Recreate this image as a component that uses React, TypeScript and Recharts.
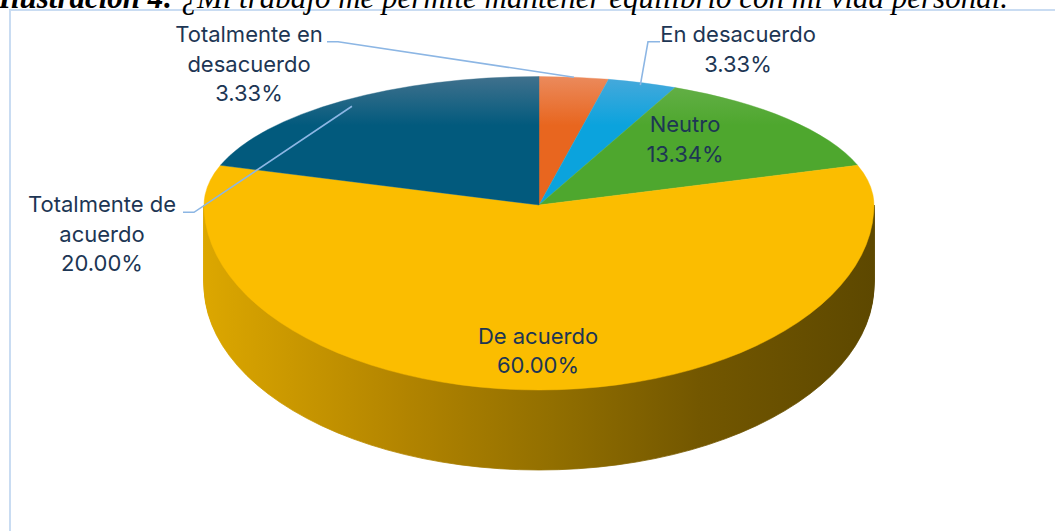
import React from 'react';
import { PieChart, Pie, Cell } from 'recharts';

// ---------- data ----------
const CATEGORIES = [
  'Totalmente en desacuerdo',
  'En desacuerdo',
  'Neutro',
  'De acuerdo',
  'Totalmente de acuerdo',
];
const VALUES = [3.33, 3.33, 13.34, 60.0, 20.0];
const LABEL_LINES = [
  ['Totalmente en', 'desacuerdo'],
  ['En desacuerdo'],
  ['Neutro'],
  ['De acuerdo'],
  ['Totalmente de', 'acuerdo'],
];
const TITLE_BOLD = 'Ilustración 4: ';
const TITLE_REST = '¿Mi trabajo me permite mantener equilibrio con mi vida personal.';

// ---------- layout / style ----------
const W = 1055;
const H = 531;
const CX = 539;
const CY = 205;
const R = 335;
const RY_BACK = 128.5;
const RY_FRONT = 185;
const DEPTH = 80;
const LAYERS = 60;
const SB = RY_BACK / R;
const SF = RY_FRONT / R;
const BH = 900;
const FH = Math.ceil(H / SF) + 10;
const LINE_H = 29.8;
const FONT = 'Inter, "Noto Sans", sans-serif';
const TEXT_COLOR = '#1d3654';
const LEADER_COLOR = '#8cb6e4';

const TOP_COLORS = [
  { light: '#eb8a5c', base: '#e8661f' },
  { light: '#48a9db', base: '#0ba3dd' },
  { light: '#68b14c', base: '#4ea72e' },
  { light: '#fbbd00', base: '#fbbd00' },
  { light: '#40718d', base: '#025a7d' },
];

const LABEL_LAYOUT: any[] = [
  { x: 249, y: 41.7, leader: { from: [327, 41.7], elbow: [338, 41.7], f: 1.0 } },
  { x: 738, y: 41.7, leader: { from: [660, 41.7], elbow: [648, 41.7], f: 0.98 } },
  { x: 685, y: 131.7 },
  { x: 538, y: 343.5 },
  { x: 102, y: 211.7, leader: { from: [183, 212.3], elbow: [194, 212.3], f: 0.95 } },
];

const data = CATEGORIES.map((name, i) => ({ name, value: VALUES[i] }));

const renderLabel = (p: any) => {
  const i = p.index;
  const L = LABEL_LAYOUT[i];
  const lines = [...LABEL_LINES[i], `${VALUES[i].toFixed(2)}%`];
  const cx = typeof p.cx === 'number' ? p.cx : CX;
  const cy = typeof p.cy === 'number' ? p.cy : CY;
  let leader = null;
  if (L.leader) {
    const rad = (p.midAngle * Math.PI) / 180;
    const s = Math.sin(rad);
    const c = Math.cos(rad);
    const ry = s >= 0 ? RY_BACK : RY_FRONT;
    const ex = cx + L.leader.f * R * c;
    const ey = cy - L.leader.f * ry * s;
    leader = (
      <polyline
        points={`${L.leader.from[0]},${L.leader.from[1]} ${L.leader.elbow[0]},${L.leader.elbow[1]} ${ex},${ey}`}
        fill="none"
        stroke={LEADER_COLOR}
        strokeWidth={1.6}
      />
    );
  }
  return (
    <g key={`lbl-${i}`}>
      {leader}
      <text x={L.x} y={L.y} textAnchor="middle" fill={TEXT_COLOR} fontFamily={FONT} fontSize={22}>
        {lines.map((t, j) => (
          <tspan key={j} x={L.x} y={L.y + j * LINE_H}>
            {t}
          </tspan>
        ))}
      </text>
    </g>
  );
};

const layers = Array.from({ length: LAYERS }, (_, k) => LAYERS - k);

export default function App() {
  const zeroMargin = { top: 0, right: 0, bottom: 0, left: 0 };
  return (
    <div
      style={{
        position: 'absolute',
        left: 0,
        top: 0,
        width: W,
        height: H,
        overflow: 'hidden',
        background: '#ffffff',
      }}
    >
      <svg width={0} height={0} style={{ position: 'absolute' }}>
        <defs>
          {TOP_COLORS.map((c, i) => (
            <linearGradient
              key={i}
              id={`top${i}`}
              gradientUnits="userSpaceOnUse"
              x1={0}
              y1={CY / SB - R}
              x2={0}
              y2={CY / SB}
            >
              <stop offset="0" stopColor={c.light} />
              <stop offset="0.38" stopColor={c.base} />
              <stop offset="1" stopColor={c.base} />
            </linearGradient>
          ))}
          <linearGradient id="side" gradientUnits="userSpaceOnUse" x1={CX - R} y1={0} x2={CX + R} y2={0}>
            <stop offset="0" stopColor="#dca700" />
            <stop offset="0.3" stopColor="#b28400" />
            <stop offset="0.52" stopColor="#926f00" />
            <stop offset="0.74" stopColor="#735700" />
            <stop offset="1" stopColor="#5d4800" />
          </linearGradient>
        </defs>
      </svg>

      {/* frame */}
      <div
        style={{
          position: 'absolute',
          left: 9,
          top: 9,
          width: 3000,
          height: 3000,
          borderLeft: '2px solid #c9dcf2',
          borderTop: '2px solid #c9dcf2',
        }}
      />

      {/* back half of top face */}
      <div style={{ position: 'absolute', left: 0, top: 0, width: W, height: CY, overflow: 'hidden' }}>
        <div
          style={{
            position: 'absolute',
            left: 0,
            top: 0,
            width: W,
            height: BH,
            transform: `scaleY(${SB})`,
            transformOrigin: '0 0',
          }}
        >
          <PieChart width={W} height={BH} margin={zeroMargin}>
            <Pie
              data={data}
              dataKey="value"
              cx={CX}
              cy={CY / SB}
              outerRadius={R}
              startAngle={90}
              endAngle={-270}
              stroke="none"
              isAnimationActive={false}
            >
              {data.map((d, i) => (
                <Cell key={i} fill={`url(#top${i})`} stroke={`url(#top${i})`} strokeWidth={0.6} />
              ))}
            </Pie>
          </PieChart>
        </div>
      </div>

      {/* front half: side + top face */}
      <div style={{ position: 'absolute', left: 0, top: CY, width: W, height: H - CY, overflow: 'hidden' }}>
        <div
          style={{
            position: 'absolute',
            left: 0,
            top: -CY,
            width: W,
            height: FH,
            transform: `scaleY(${SF})`,
            transformOrigin: '0 0',
          }}
        >
          <PieChart width={W} height={FH} margin={zeroMargin}>
            {layers.map((k) => (
              <Pie
                key={`side-${k}`}
                data={data}
                dataKey="value"
                cx={CX}
                cy={CY / SF + (k * DEPTH) / LAYERS / SF}
                outerRadius={R}
                startAngle={90}
                endAngle={-270}
                stroke="none"
                isAnimationActive={false}
              >
                {data.map((d, i) => (
                  <Cell key={i} fill="url(#side)" stroke="url(#side)" strokeWidth={1} />
                ))}
              </Pie>
            ))}
            <Pie
              data={data}
              dataKey="value"
              cx={CX}
              cy={CY / SF}
              outerRadius={R}
              startAngle={90}
              endAngle={-270}
              stroke="none"
              isAnimationActive={false}
            >
              {data.map((d, i) => (
                <Cell key={i} fill={TOP_COLORS[i].base} stroke={TOP_COLORS[i].base} strokeWidth={0.6} />
              ))}
            </Pie>
          </PieChart>
        </div>
      </div>

      {/* labels overlay */}
      <div style={{ position: 'absolute', left: 0, top: 0 }}>
        <PieChart width={W} height={H} margin={zeroMargin}>
          <Pie
            data={data}
            dataKey="value"
            cx={CX}
            cy={CY}
            outerRadius={R}
            startAngle={90}
            endAngle={-270}
            fill="none"
            stroke="none"
            isAnimationActive={false}
            label={renderLabel}
            labelLine={false}
          >
            {data.map((d, i) => (
              <Cell key={i} fill="none" stroke="none" />
            ))}
          </Pie>
        </PieChart>
      </div>

      {/* title (cut off at top, as in the source) */}
      <svg width={W} height={24} style={{ position: 'absolute', left: 0, top: 0 }}>
        <text
          x={1008}
          y={8}
          textAnchor="end"
          fontFamily='"Liberation Serif", "Times New Roman", serif'
          fontStyle="italic"
          fontSize={31}
          fill="#000"
        >
          <tspan fontWeight="bold">{TITLE_BOLD}</tspan>
          <tspan>{TITLE_REST}</tspan>
        </text>
      </svg>
    </div>
  );
}
